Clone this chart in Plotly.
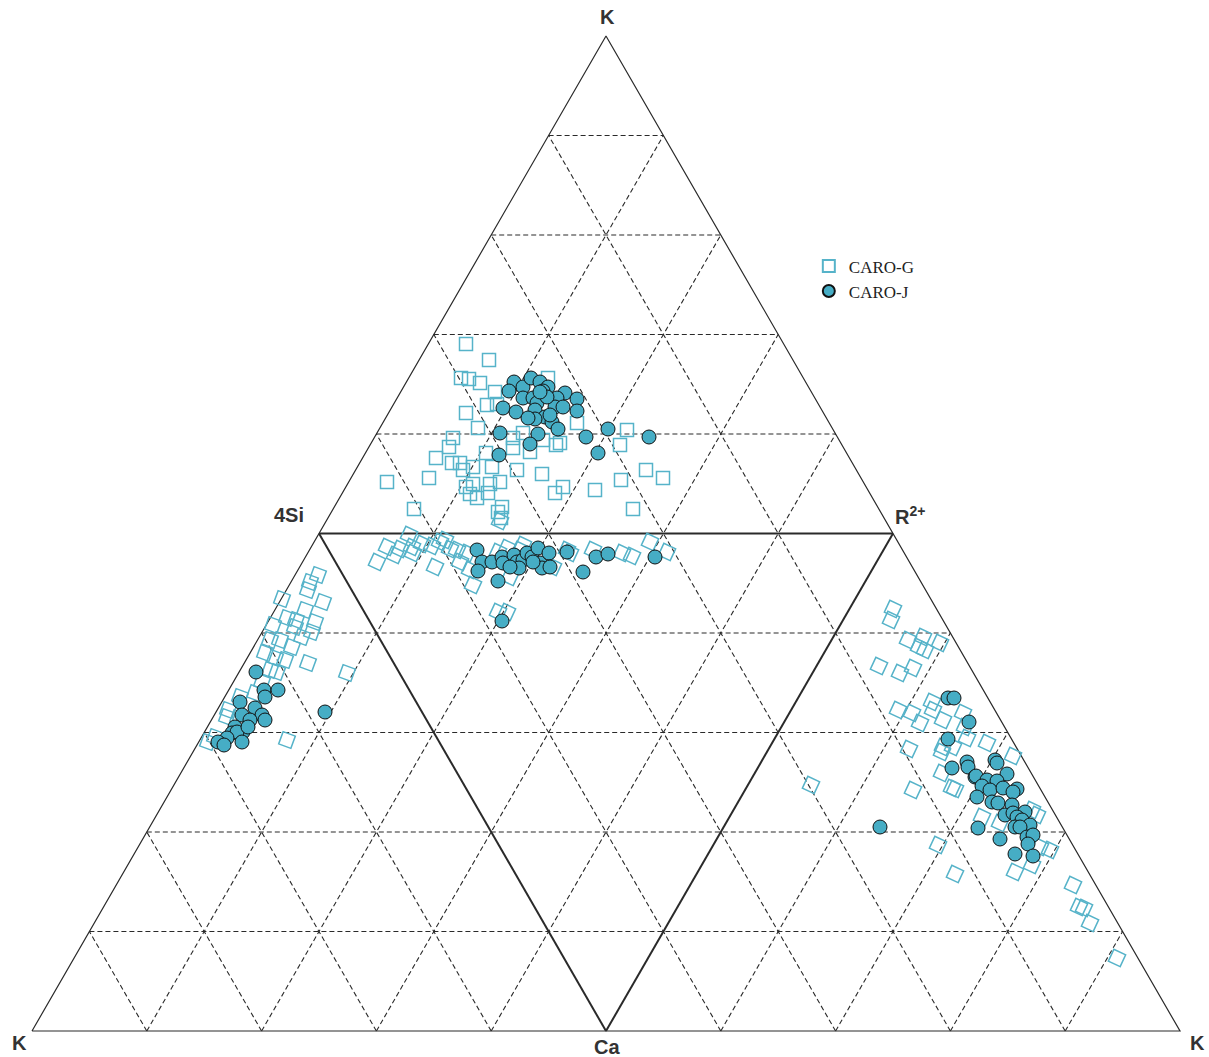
import numpy as np
import plotly.graph_objects as go

# Diagram units: base of the big triangle = 1148, height = 995 (origin at lower-left K vertex)
SIDE = 1148.0
HEIGHT = 995.0

# ---------------- CARO-G (open squares) ----------------
g_top_x = [434, 457, 429, 437, 448, 463, 516, 434, 455, 465, 446, 421, 417, 404, 420, 428, 397, 355, 382,
           441, 454, 460, 441, 458, 468, 438, 445, 456, 470, 466, 469, 485, 481, 498, 511, 524, 510, 523,
           531, 545, 563, 588, 595, 589, 614, 631, 601, 491, 481, 528, 434, 431]
g_top_y = [687, 671, 653, 652, 648, 639, 653, 618, 626, 627, 603, 593, 584, 573, 568, 568, 553, 549, 522,
           564, 578, 564, 547, 547, 549, 537, 533, 538, 524, 519, 513, 561, 583, 579, 591, 586, 557, 538,
           544, 608, 541, 586, 601, 551, 561, 553, 522, 598, 593, 588, 544, 561]

g_mid_x = [377, 345, 355, 368, 380, 381, 390, 400, 403, 408, 418, 425, 428, 435, 438, 441, 466, 475, 478,
           491, 488, 521, 535, 538, 561, 590, 600, 618, 635, 466, 475, 468, 413, 363]
g_mid_y = [496, 469, 484, 482, 484, 478, 487, 485, 464, 489, 482, 481, 469, 478, 461, 446, 479, 483, 454,
           486, 481, 464, 481, 478, 481, 478, 475, 489, 479, 419, 419, 510, 491, 476]

g_left_x = [286, 278, 276, 291, 250, 273, 283, 241, 255, 263, 270, 280, 238, 248, 260, 233, 243, 253, 276,
            238, 245, 315, 230, 223, 208, 196, 195, 206, 183, 176, 255, 264]
g_left_y = [456, 449, 441, 429, 432, 421, 409, 406, 413, 404, 394, 399, 391, 391, 384, 378, 373, 371, 368,
            361, 359, 358, 349, 338, 334, 321, 314, 313, 294, 289, 291, 411]

g_right_x = [861, 859, 876, 891, 887, 893, 908, 847, 868, 881, 866, 880, 888, 900, 901, 911, 931, 877, 911,
             910, 920, 935, 955, 881, 910, 921, 981, 923, 950, 968, 1000, 1005, 906, 923, 983, 1000, 1008,
             1018, 1041, 1047, 1052, 1058, 1085, 779, 933]
g_right_y = [422, 411, 391, 394, 384, 381, 388, 365, 358, 363, 321, 318, 308, 329, 321, 311, 318, 282, 284,
             258, 243, 293, 288, 241, 279, 284, 275, 242, 214, 208, 221, 216, 186, 157, 159, 166, 184,
             181, 146, 124, 123, 108, 73, 246, 304]

# ---------------- CARO-J (filled circles) ----------------
j_x = [482, 477, 491, 499, 508, 516, 511, 491, 501, 505, 533, 525, 545, 545, 471, 484, 503, 523, 531, 513,
       503, 520, 526, 506, 498, 468, 467, 554, 576, 566, 617, 515, 508, 496, 518,
       445, 450, 446, 460, 470, 471, 482, 485, 491, 487, 495, 500, 506, 508, 510, 517, 518, 535, 551, 564,
       576, 623, 466, 470, 478, 501,
       224, 232, 233, 246, 208, 223, 230, 210, 218, 233, 211, 203, 200, 205, 195, 186, 192, 210, 293, 216,
       916, 922, 937, 916, 920, 935, 936, 943, 963, 965, 975, 944, 955, 965, 950, 958, 971, 985, 981, 945,
       960, 966, 980, 973, 981, 993, 985, 990, 983, 998, 988, 946, 995, 1001, 996, 968, 983, 1001, 848]
j_y = [649, 640, 644, 653, 649, 644, 640, 633, 633, 628, 638, 633, 632, 620, 623, 619, 621, 624, 624, 614,
       612, 609, 602, 597, 587, 598, 576, 594, 602, 578, 594, 634, 639, 613, 616,
       481, 469, 460, 469, 474, 468, 476, 469, 471, 463, 478, 474, 483, 468, 463, 478, 464, 479, 459, 474,
       477, 474, 450, 410, 464, 469,
       359, 341, 334, 341, 329, 323, 316, 316, 311, 311, 299, 304, 298, 299, 293, 289, 286, 289, 319, 304,
       333, 333, 309, 292, 263, 269, 264, 254, 271, 268, 257, 255, 251, 250, 245, 241, 243, 242, 239, 234,
       229, 228, 226, 216, 218, 219, 214, 211, 204, 206, 204, 203, 194, 196, 187, 192, 177, 175, 204]

vertex_labels = ["K", "4Si", "R<sup>2+</sup>", "K", "Ca", "K"]

# ---------------- geometry of the diagram (from the unit triangle) ----------------
L, H = SIDE, HEIGHT
dash_x, dash_y, inner_x, inner_y = [], [], [], []
for k in range(1, 10):
    f = k / 10.0
    segs = [
        ((f * L / 2, f * H), (L - f * L / 2, f * H)),            # parallel to base
        ((f * L, 0), ((L + f * L) / 2, H * (1 - f))),           # parallel to left side
        ((f * L, 0), (f * L / 2, f * H)),                        # parallel to right side
    ]
    for (x0, y0), (x1, y1) in segs:
        if k == 5:
            inner_x += [x0, x1, None]
            inner_y += [y0, y1, None]
        else:
            dash_x += [x0, x1, None]
            dash_y += [y0, y1, None]

outer_x = [0, L, L / 2, 0]
outer_y = [0, 0, H, 0]

fig = go.Figure()
line_col = "#2a2a2a"
fig.add_trace(go.Scatter(x=dash_x, y=dash_y, mode="lines", showlegend=False, hoverinfo="skip",
                         line=dict(color=line_col, width=1.1, dash="5px,3px")))
fig.add_trace(go.Scatter(x=inner_x, y=inner_y, mode="lines", showlegend=False, hoverinfo="skip",
                         line=dict(color=line_col, width=2)))
fig.add_trace(go.Scatter(x=outer_x, y=outer_y, mode="lines", showlegend=False, hoverinfo="skip",
                         line=dict(color=line_col, width=1.2)))

sq_col = "#56b3c9"
for i, (gx, gy, ang) in enumerate([(g_top_x, g_top_y, 0), (g_mid_x, g_mid_y, 25),
                                    (g_left_x, g_left_y, 20), (g_right_x, g_right_y, 25)]):
    fig.add_trace(go.Scatter(
        x=gx, y=gy, mode="markers", name="CARO-G", legendgroup="g", showlegend=(i == 0),
        marker=dict(symbol="square-open", size=13, angle=ang, color=sq_col, line=dict(width=1.5, color=sq_col))))

fig.add_trace(go.Scatter(
    x=j_x, y=j_y, mode="markers", name="CARO-J",
    marker=dict(symbol="circle", size=14, color="#46adc5", line=dict(width=1, color="#111111"))))

# vertex labels
lab_pos = [(575, 1014), (257, 516), (878, 516), (-13, -12), (575, -16), (1165, -12)]
for txt, (lx, ly) in zip(vertex_labels, lab_pos):
    fig.add_annotation(x=lx, y=ly, text="<b>%s</b>" % txt, showarrow=False,
                       font=dict(family="Liberation Sans, Arial", size=20, color="#333333"))

fig.update_xaxes(range=[-32, 1177], visible=False, showgrid=False, zeroline=False)
fig.update_yaxes(range=[-26, 1031], visible=False, showgrid=False, zeroline=False)
fig.update_layout(
    width=1209, height=1057, margin=dict(l=0, r=0, t=0, b=0),
    plot_bgcolor="white", paper_bgcolor="white",
    legend=dict(x=0.669, y=0.765, xanchor="left", yanchor="top", bgcolor="rgba(0,0,0,0)",
                font=dict(family="Liberation Serif, Times New Roman", size=17, color="#222222"),
                itemsizing="constant", tracegroupgap=0),
)
fig.write_html("out.html", config={"displayModeBar": False},
               post_script="document.body.style.margin='0';document.body.style.overflow='hidden';")
